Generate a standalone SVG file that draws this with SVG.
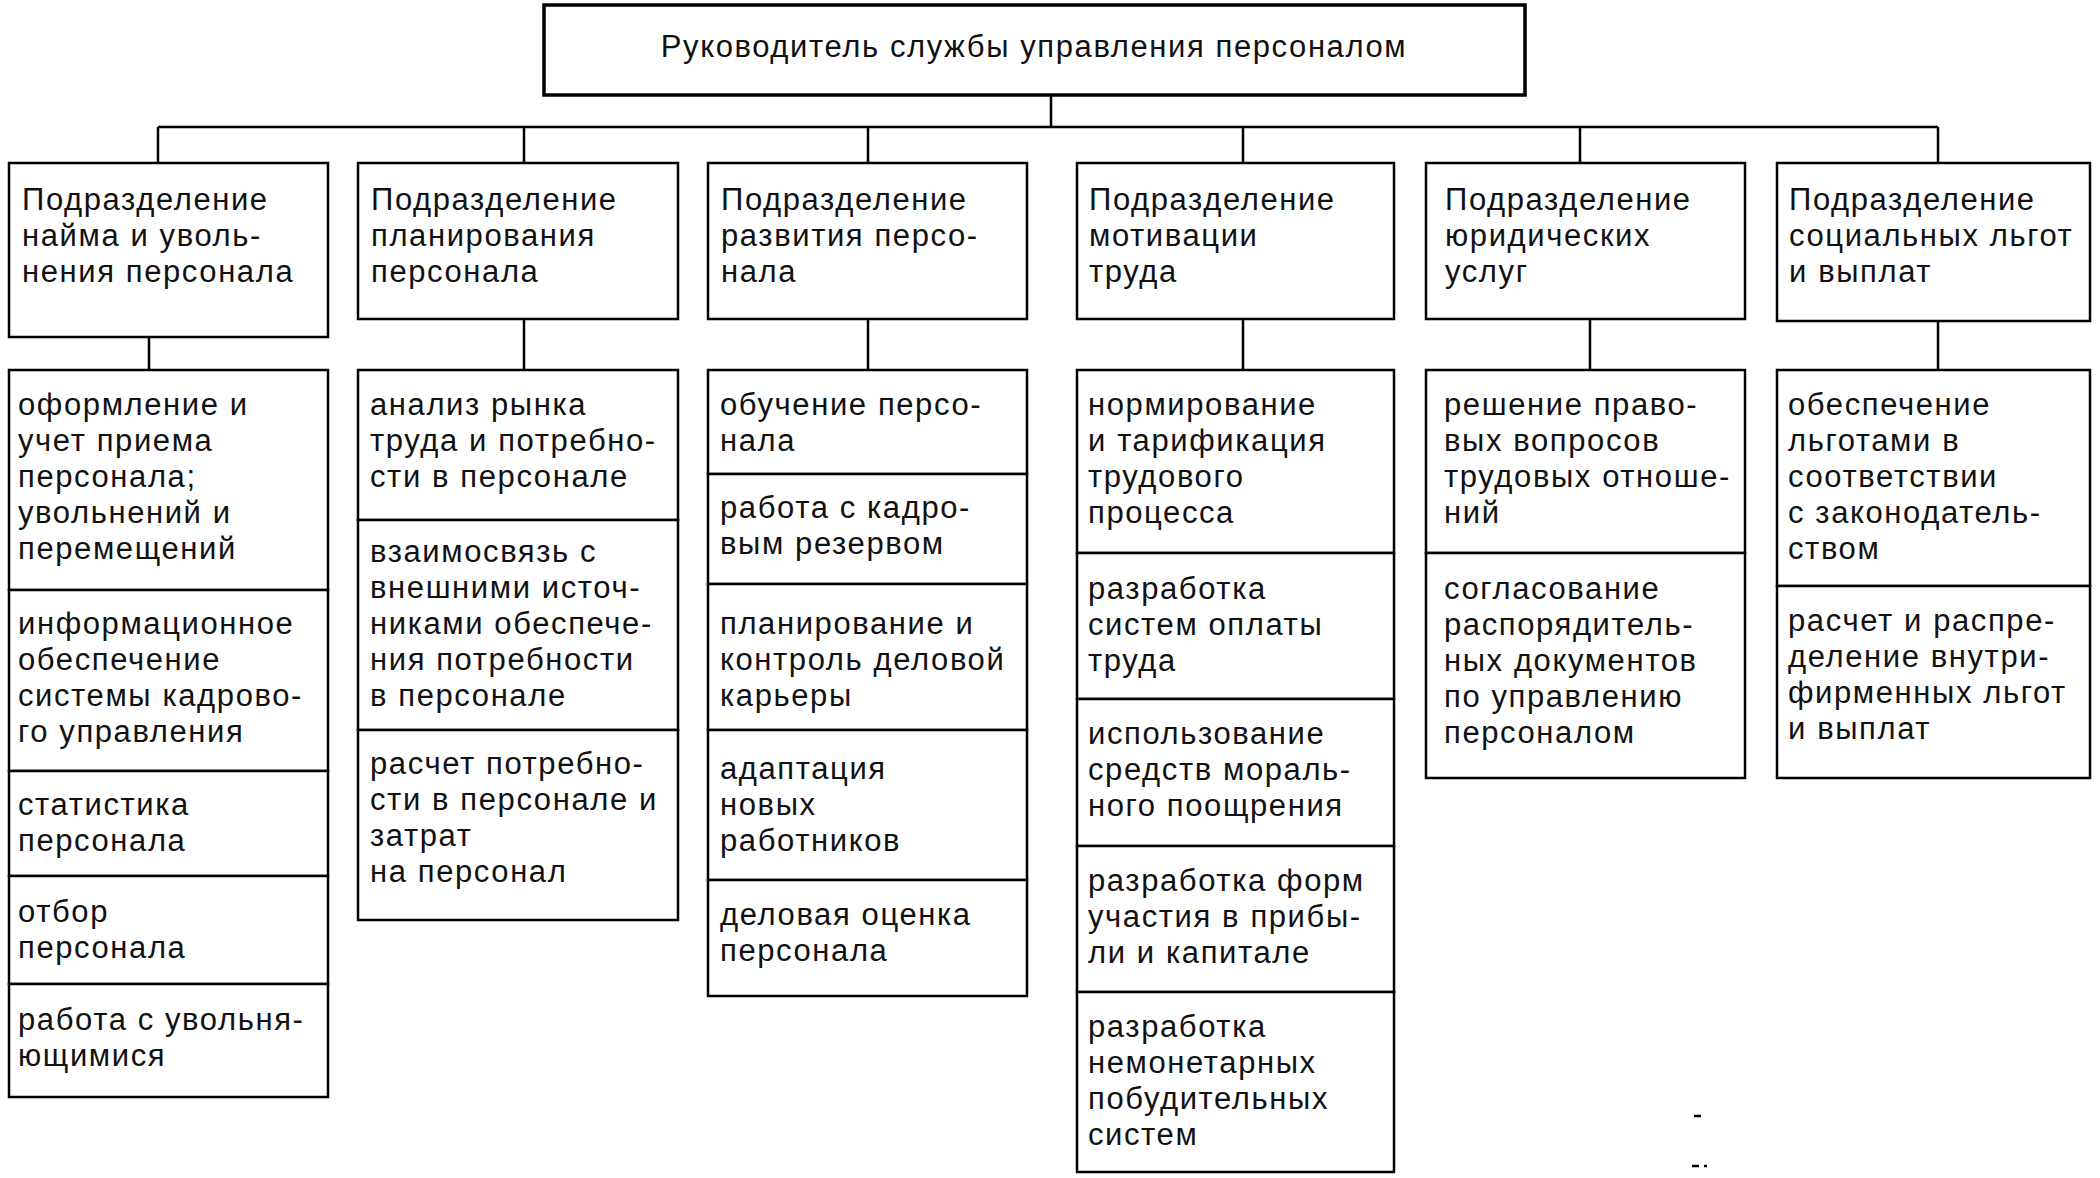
<svg xmlns="http://www.w3.org/2000/svg" width="2100" height="1178" viewBox="0 0 2100 1178">
<style>
rect{fill:#fff;stroke:#000;stroke-width:2.5}
line,path{stroke:#000;stroke-width:2.5;fill:none}
text{font-family:"Liberation Sans",Arial,sans-serif;font-size:31px;letter-spacing:1.6px;fill:#111}
</style>
<rect width="2100" height="1178" style="stroke:none"/>
<g id="connectors">
<line x1="1051" y1="95" x2="1051" y2="127"/>
<line x1="158" y1="127" x2="1938" y2="127"/>
<line x1="158" y1="127" x2="158" y2="163"/>
<line x1="524" y1="127" x2="524" y2="163"/>
<line x1="868" y1="127" x2="868" y2="163"/>
<line x1="1243" y1="127" x2="1243" y2="163"/>
<line x1="1580" y1="127" x2="1580" y2="163"/>
<line x1="1938" y1="127" x2="1938" y2="163"/>
<line x1="149" y1="337" x2="149" y2="370"/>
<line x1="524" y1="319" x2="524" y2="370"/>
<line x1="868" y1="319" x2="868" y2="370"/>
<line x1="1243" y1="319" x2="1243" y2="370"/>
<line x1="1590" y1="319" x2="1590" y2="370"/>
<line x1="1938" y1="321" x2="1938" y2="370"/>
</g>
<g id="top"><rect x="544" y="5" width="981" height="90" style="stroke-width:3.5"/><text x="1034" y="57" text-anchor="middle">Руководитель службы управления персоналом</text></g>
<g id="col1">
<rect x="9" y="163" width="319" height="174"/>
<text x="22" y="210">Подразделение</text><text x="22" y="246">найма и уволь-</text><text x="22" y="282">нения персонала</text>
<rect x="9" y="370" width="319" height="220"/>
<text x="18" y="415">оформление и</text><text x="18" y="451">учет приема</text><text x="18" y="487">персонала;</text><text x="18" y="523">увольнений и</text><text x="18" y="559">перемещений</text>
<rect x="9" y="590" width="319" height="181"/>
<text x="18" y="634">информационное</text><text x="18" y="670">обеспечение</text><text x="18" y="706">системы кадрово-</text><text x="18" y="742">го управления</text>
<rect x="9" y="771" width="319" height="105"/>
<text x="18" y="815">статистика</text><text x="18" y="851">персонала</text>
<rect x="9" y="876" width="319" height="108"/>
<text x="18" y="922">отбор</text><text x="18" y="958">персонала</text>
<rect x="9" y="984" width="319" height="113"/>
<text x="18" y="1030">работа с увольня-</text><text x="18" y="1066">ющимися</text>
</g>
<g id="col2">
<rect x="358" y="163" width="320" height="156"/>
<text x="371" y="210">Подразделение</text><text x="371" y="246">планирования</text><text x="371" y="282">персонала</text>
<rect x="358" y="370" width="320" height="150"/>
<text x="370" y="415">анализ рынка</text><text x="370" y="451">труда и потребно-</text><text x="370" y="487">сти в персонале</text>
<rect x="358" y="520" width="320" height="210"/>
<text x="370" y="562">взаимосвязь  с</text><text x="370" y="598">внешними источ-</text><text x="370" y="634">никами обеспече-</text><text x="370" y="670">ния потребности</text><text x="370" y="706">в персонале</text>
<rect x="358" y="730" width="320" height="190"/>
<text x="370" y="774">расчет потребно-</text><text x="370" y="810">сти в персонале и</text><text x="370" y="846">затрат</text><text x="370" y="882">на персонал</text>
</g>
<g id="col3">
<rect x="708" y="163" width="319" height="156"/>
<text x="721" y="210">Подразделение</text><text x="721" y="246">развития персо-</text><text x="721" y="282">нала</text>
<rect x="708" y="370" width="319" height="104"/>
<text x="720" y="415">обучение персо-</text><text x="720" y="451">нала</text>
<rect x="708" y="474" width="319" height="110"/>
<text x="720" y="518">работа с кадро-</text><text x="720" y="554">вым резервом</text>
<rect x="708" y="584" width="319" height="146"/>
<text x="720" y="634">планирование и</text><text x="720" y="670">контроль деловой</text><text x="720" y="706">карьеры</text>
<rect x="708" y="730" width="319" height="150"/>
<text x="720" y="779">адаптация</text><text x="720" y="815">новых</text><text x="720" y="851">работников</text>
<rect x="708" y="880" width="319" height="116"/>
<text x="720" y="925">деловая оценка</text><text x="720" y="961">персонала</text>
</g>
<g id="col4">
<rect x="1077" y="163" width="317" height="156"/>
<text x="1089" y="210">Подразделение</text><text x="1089" y="246">мотивации</text><text x="1089" y="282">труда</text>
<rect x="1077" y="370" width="317" height="183"/>
<text x="1088" y="415">нормирование</text><text x="1088" y="451">и тарификация</text><text x="1088" y="487">трудового</text><text x="1088" y="523">процесса</text>
<rect x="1077" y="553" width="317" height="146"/>
<text x="1088" y="599">разработка</text><text x="1088" y="635">систем оплаты</text><text x="1088" y="671">труда</text>
<rect x="1077" y="699" width="317" height="147"/>
<text x="1088" y="744">использование</text><text x="1088" y="780">средств мораль-</text><text x="1088" y="816">ного поощрения</text>
<rect x="1077" y="846" width="317" height="146"/>
<text x="1088" y="891">разработка форм</text><text x="1088" y="927">участия в прибы-</text><text x="1088" y="963">ли и капитале</text>
<rect x="1077" y="992" width="317" height="180"/>
<text x="1088" y="1037">разработка</text><text x="1088" y="1073">немонетарных</text><text x="1088" y="1109">побудительных</text><text x="1088" y="1145">систем</text>
</g>
<g id="col5">
<rect x="1426" y="163" width="319" height="156"/>
<text x="1445" y="210">Подразделение</text><text x="1445" y="246">юридических</text><text x="1445" y="282">услуг</text>
<rect x="1426" y="370" width="319" height="183"/>
<text x="1444" y="415">решение право-</text><text x="1444" y="451">вых вопросов</text><text x="1444" y="487">трудовых отноше-</text><text x="1444" y="523">ний</text>
<rect x="1426" y="553" width="319" height="225"/>
<text x="1444" y="599">согласование</text><text x="1444" y="635">распорядитель-</text><text x="1444" y="671">ных документов</text><text x="1444" y="707">по управлению</text><text x="1444" y="743">персоналом</text>
</g>
<g id="col6">
<rect x="1777" y="163" width="313" height="158"/>
<text x="1789" y="210">Подразделение</text><text x="1789" y="246">социальных льгот</text><text x="1789" y="282">и выплат</text>
<rect x="1777" y="370" width="313" height="216"/>
<text x="1788" y="415">обеспечение</text><text x="1788" y="451">льготами в</text><text x="1788" y="487">соответствии</text><text x="1788" y="523">с законодатель-</text><text x="1788" y="559">ством</text>
<rect x="1777" y="586" width="313" height="192"/>
<text x="1788" y="631">расчет и распре-</text><text x="1788" y="667">деление внутри-</text><text x="1788" y="703">фирменных льгот</text><text x="1788" y="739">и выплат</text>
</g>
<g id="marks"><line x1="1694" y1="1116" x2="1701" y2="1116"/><line x1="1692" y1="1166" x2="1699" y2="1166"/><line x1="1704" y1="1166" x2="1707" y2="1166"/></g>
</svg>
